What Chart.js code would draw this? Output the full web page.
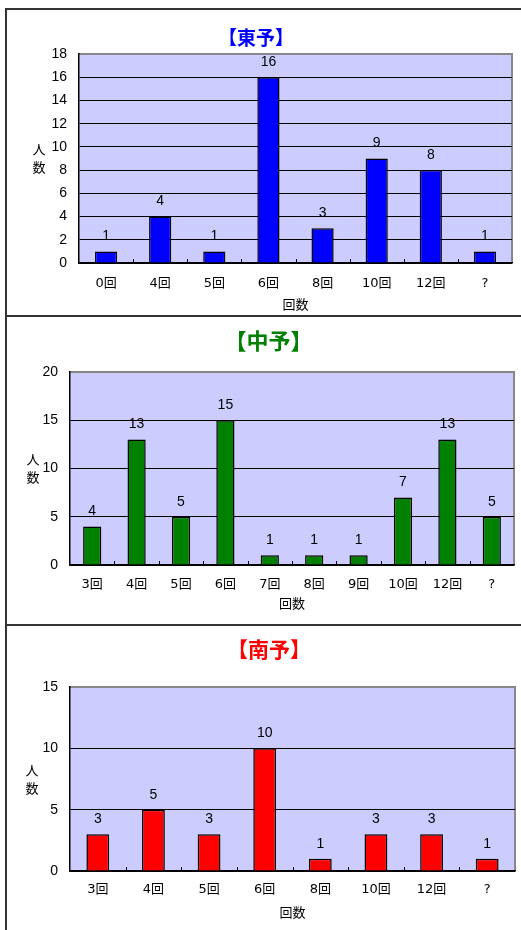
<!DOCTYPE html>
<html>
<head>
<meta charset="utf-8">
<script src="https://cdn.jsdelivr.net/npm/chart.js@4.4.1/dist/chart.umd.min.js"></script>
<style>
  body { margin: 0; background: #fff; width: 521px; height: 930px; overflow: hidden; position: relative; }
  .wrap { position: absolute; left: 0; width: 521px; }
  .line { position: absolute; background: #333; z-index: 2; }
</style>
</head>
<body>
<div class="line" style="left:5px; top:8px; width:2px; height:922px;"></div>
<div class="line" style="left:5px; top:8px; width:516px; height:2px;"></div>
<div class="line" style="left:5px; top:315px; width:516px; height:1.5px;"></div>
<div class="line" style="left:5px; top:624px; width:516px; height:1.5px;"></div>

<div class="wrap" style="top:0px; height:316px;"><canvas id="chartToyo"></canvas></div>
<div class="wrap" style="top:316px; height:310px;"><canvas id="chartChuyo"></canvas></div>
<div class="wrap" style="top:626px; height:304px;"><canvas id="chartNanyo"></canvas></div>

<script>
// 東予
var toyoLabels = ["0回", "4回", "5回", "6回", "8回", "10回", "12回", "?"];
var toyoValues = [1, 4, 1, 16, 3, 9, 8, 1];
// 中予
var chuyoLabels = ["3回", "4回", "5回", "6回", "7回", "8回", "9回", "10回", "12回", "?"];
var chuyoValues = [4, 13, 5, 15, 1, 1, 1, 7, 13, 5];
// 南予
var nanyoLabels = ["3回", "4回", "5回", "6回", "8回", "10回", "12回", "?"];
var nanyoValues = [3, 5, 3, 10, 1, 3, 3, 1];

var numFont = "'Liberation Sans', Arial, sans-serif";
var jpFont = "'Noto Sans CJK JP', sans-serif";
var tickFont = "'DejaVu Sans', 'Noto Sans CJK JP', sans-serif";

// plot background + grey frame, ticks up from the x axis, value labels, 人数 label
var decor = {
  id: "decor",
  beforeDraw: function(chart) {
    var a = chart.chartArea, ctx = chart.ctx;
    ctx.save();
    ctx.fillStyle = "#CCCCFF";
    ctx.fillRect(a.left, a.top, a.right - a.left, a.bottom - a.top);
    ctx.strokeStyle = "#888";
    ctx.lineWidth = 2;
    ctx.beginPath();
    ctx.moveTo(a.left, a.top);
    ctx.lineTo(a.right, a.top);
    ctx.lineTo(a.right, a.bottom);
    ctx.stroke();
    ctx.restore();
  },
  afterDatasetsDraw: function(chart) {
    var a = chart.chartArea, ctx = chart.ctx;
    var xs = chart.scales.x;
    var n = chart.data.labels.length;
    ctx.save();
    // small tick marks between categories
    ctx.strokeStyle = "#000";
    ctx.lineWidth = 1;
    for (var i = 1; i < n; i++) {
      var px = Math.round((xs.getPixelForValue(i - 1) + xs.getPixelForValue(i)) / 2) + 0.5;
      ctx.beginPath();
      ctx.moveTo(px, a.bottom);
      ctx.lineTo(px, a.bottom - 4);
      ctx.stroke();
    }
    // values above bars
    ctx.fillStyle = "#000";
    ctx.font = "14px " + numFont;
    ctx.textAlign = "center";
    ctx.textBaseline = "middle";
    var meta = chart.getDatasetMeta(0);
    meta.data.forEach(function(bar, j) {
      ctx.fillText(chart.data.datasets[0].data[j], bar.x, bar.y - 15);
    });
    // vertical 人数
    ctx.font = "13px " + jpFont;
    var cx = chart.options.plugins.decor.yLabelX;
    var cy = (a.top + a.bottom) / 2;
    ctx.fillText("人", cx, cy - 9);
    ctx.fillText("数", cx, cy + 9);
    ctx.restore();
  }
};

function makeChart(id, labels, values, o) {
  return new Chart(document.getElementById(id), {
    type: "bar",
    data: {
      labels: labels,
      datasets: [{
        data: values,
        backgroundColor: o.color,
        borderColor: "#000",
        borderWidth: 1.5,
        borderSkipped: "bottom",
        barPercentage: 0.41,
        categoryPercentage: 1
      }]
    },
    options: {
      responsive: true,
      maintainAspectRatio: false,
      animation: false,
      layout: { padding: { left: o.padL, right: o.padR, top: 0, bottom: 0 } },
      plugins: {
        legend: { display: false },
        tooltip: { enabled: false },
        title: {
          display: true,
          text: o.title,
          color: o.titleColor,
          font: { family: jpFont, size: o.titleSize, weight: "bold" },
          padding: { top: o.titlePadTop, bottom: o.titlePadBottom }
        },
        decor: { yLabelX: o.yLabelX }
      },
      scales: {
        x: {
          grid: { display: false, drawTicks: false },
          border: { color: "#000", width: 1.5 },
          ticks: { color: "#000", padding: o.xTickPad, font: { family: tickFont, size: 13 }, maxRotation: 0, autoSkip: false },
          title: { display: true, text: "回数", color: "#000", font: { family: jpFont, size: 13 }, padding: { top: 0, bottom: o.xTitlePad } },
          afterFit: function(s) { s.height = o.xHeight; }
        },
        y: {
          min: 0,
          max: o.max,
          ticks: { stepSize: o.step, color: "#000", padding: 12, font: { family: numFont, size: 14 } },
          grid: {
            drawTicks: false,
            color: function(c) { return c.tick && c.tick.value === o.max ? "rgba(0,0,0,0)" : "#000"; },
            lineWidth: 1
          },
          border: { color: "#000", width: 1.5 },
          afterFit: function(s) { s.width = o.yWidth; }
        }
      }
    },
    plugins: [decor]
  });
}

makeChart("chartToyo", toyoLabels, toyoValues, {
  color: "#0000FF", title: "【東予】", titleColor: "#0000FF", titleSize: 19,
  titlePadTop: 26.6, titlePadBottom: 4.6, padL: 0, padR: 9, yWidth: 79,
  xHeight: 53, xTickPad: 13, xTitlePad: 4.2, max: 18, step: 2, yLabelX: 39
});
makeChart("chartChuyo", chuyoLabels, chuyoValues, {
  color: "#008000", title: "【中予】", titleColor: "#008000", titleSize: 22,
  titlePadTop: 11.8, titlePadBottom: 17.8, padL: 23, padR: 7, yWidth: 47,
  xHeight: 61, xTickPad: 12.2, xTitlePad: 15.2, max: 20, step: 5, yLabelX: 33
});
makeChart("chartNanyo", nanyoLabels, nanyoValues, {
  color: "#FF0000", title: "【南予】", titleColor: "#FF0000", titleSize: 21,
  titlePadTop: 10.4, titlePadBottom: 25.4, padL: 23, padR: 6, yWidth: 47,
  xHeight: 59, xTickPad: 11.2, xTitlePad: 10.2, max: 15, step: 5, yLabelX: 32
});
</script>
</body>
</html>
